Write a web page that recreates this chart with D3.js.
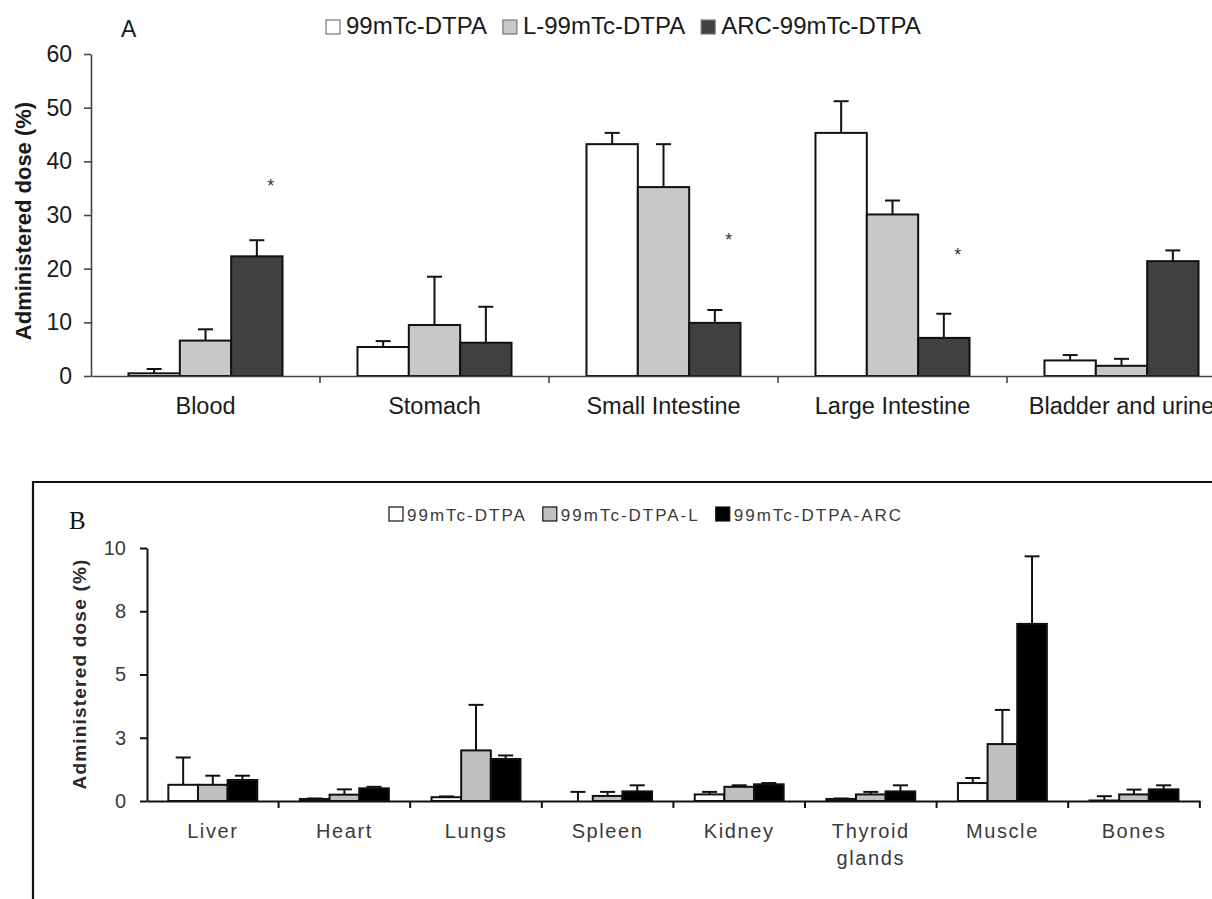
<!DOCTYPE html>
<html lang="en">
<head>
    <meta charset="UTF-8">
    <script src="https://cdn.jsdelivr.net/npm/d3@7"></script>
    <style>
        body { margin: 0; background: #fff; }
        svg { display: block; }
    </style>
</head>
<body>
<div id="chart"></div>
<script>
    // ---- panel A data (% administered dose, mean and SD) ----
    var organsA = ["Blood", "Stomach", "Small Intestine", "Large Intestine", "Bladder and urine"];
    var seriesA = ["99mTc-DTPA", "L-99mTc-DTPA", "ARC-99mTc-DTPA"];
    var dtpaA = [0.5, 5.4, 43.2, 45.3, 2.9];
    var dtpaSdA = [0.8, 1.1, 2.1, 5.9, 1.0];
    var lipoA = [6.6, 9.5, 35.2, 30.1, 1.9];
    var lipoSdA = [2.1, 9.0, 8.0, 2.6, 1.3];
    var arcA = [22.3, 6.2, 9.9, 7.1, 21.4];
    var arcSdA = [3.0, 6.7, 2.4, 4.5, 2.0];
    var ticksA = [0, 10, 20, 30, 40, 50, 60];
    var starOrgansA = ["Blood", "Small Intestine", "Large Intestine"];
    var starLevelsA = [36, 25.9, 23.1];

    // ---- panel B data ----
    var organsB = ["Liver", "Heart", "Lungs", "Spleen", "Kidney", "Thyroid glands", "Muscle", "Bones"];
    var seriesB = ["99mTc-DTPA", "99mTc-DTPA-L", "99mTc-DTPA-ARC"];
    var dtpaB = [0.64, 0.08, 0.15, 0, 0.26, 0.08, 0.71, 0.02];
    var dtpaSdB = [1.08, 0.02, 0.03, 0.36, 0.10, 0.02, 0.20, 0.17];
    var lipoB = [0.64, 0.25, 2.0, 0.2, 0.56, 0.26, 2.25, 0.26];
    var lipoSdB = [0.36, 0.21, 1.8, 0.16, 0.06, 0.10, 1.35, 0.19];
    var arcB = [0.83, 0.5, 1.66, 0.38, 0.66, 0.38, 7.0, 0.46];
    var arcSdB = [0.17, 0.06, 0.14, 0.24, 0.05, 0.24, 2.67, 0.16];
    var ticksB = [0, 2.5, 5, 7.5, 10];
    var tickLabelsB = ["0", "3", "5", "8", "10"];

    var svg = d3.select("#chart")
        .append("svg")
        .attr("width", 1212)
        .attr("height", 899);

    function rows(organs, series, means, sds) {
        var out = [];
        organs.forEach(function (o, i) {
            series.forEach(function (s, j) {
                out.push({ organ: o, series: s, v: means[j][i], sd: sds[j][i] });
            });
        });
        return out;
    }

    // draws one grouped bar panel, returns its scales
    function drawPanel(g, p) {
        var x = d3.scaleBand().domain(p.organs)
            .range([p.left, p.left + p.step * p.organs.length]);
        var xs = d3.scaleBand().domain(p.series)
            .range([0, p.step]).paddingOuter(p.outer);
        var y = d3.scaleLinear().domain([0, p.max]).range([p.bottom, p.top]);
        var fill = d3.scaleOrdinal().domain(p.series).range(p.fills);
        var data = rows(p.organs, p.series, p.means, p.sds);

        g.selectAll("rect.bar")
            .data(data)
            .enter()
            .append("rect")
            .attr("class", "bar")
            .attr("x", function (d) { return x(d.organ) + xs(d.series); })
            .attr("y", function (d) { return y(d.v); })
            .attr("width", xs.bandwidth())
            .attr("height", function (d) { return y(0) - y(d.v); })
            .attr("fill", function (d) { return fill(d.series); })
            .attr("stroke", "#111")
            .attr("stroke-width", 2);

        var err = g.selectAll("g.err")
            .data(data)
            .enter()
            .append("g")
            .attr("class", "err")
            .attr("stroke", "#111")
            .attr("stroke-width", 2);
        err.append("line")
            .attr("x1", function (d) { return x(d.organ) + xs(d.series) + xs.bandwidth() / 2; })
            .attr("x2", function (d) { return x(d.organ) + xs(d.series) + xs.bandwidth() / 2; })
            .attr("y1", function (d) { return y(d.v); })
            .attr("y2", function (d) { return y(d.v + d.sd); });
        err.append("line")
            .attr("x1", function (d) { return x(d.organ) + xs(d.series) + xs.bandwidth() / 2 - 7.5; })
            .attr("x2", function (d) { return x(d.organ) + xs(d.series) + xs.bandwidth() / 2 + 7.5; })
            .attr("y1", function (d) { return y(d.v + d.sd); })
            .attr("y2", function (d) { return y(d.v + d.sd); });

        // y axis
        var yAxis = d3.axisLeft(y)
            .tickValues(p.ticks)
            .tickSize(7)
            .tickSizeOuter(0)
            .tickPadding(p.yPad);
        if (p.tickLabels) yAxis.tickFormat(function (d, i) { return p.tickLabels[i]; });
        var ya = g.append("g")
            .attr("transform", "translate(" + p.left + ",0)")
            .call(yAxis);
        ya.selectAll("path, line").attr("stroke", p.axisColor).attr("stroke-width", p.axisWidth);
        ya.selectAll("text")
            .attr("font-family", "Liberation Sans, Arial, sans-serif")
            .attr("font-size", p.tickFont)
            .attr("fill", p.textColor);

        // x axis: line + labels, boundary ticks drawn separately
        var xAxis = d3.axisBottom(x).tickSize(0).tickSizeOuter(0).tickPadding(p.xPad);
        var xa = g.append("g")
            .attr("transform", "translate(0," + p.bottom + ")")
            .call(xAxis);
        xa.select("path.domain").attr("stroke", p.axisColor).attr("stroke-width", p.axisWidth);
        xa.selectAll("text")
            .attr("font-family", "Liberation Sans, Arial, sans-serif")
            .attr("font-size", p.labelFont)
            .attr("letter-spacing", p.labelSpacing)
            .attr("fill", p.textColor)
            .each(function (d) {
                var t = d3.select(this);
                var words = d.split(" ");
                if (!p.wrap || words.length < 2) return;
                t.text(null);
                words.forEach(function (w, k) {
                    t.append("tspan").attr("x", 0).attr("dy", k === 0 ? "0.71em" : "1.35em").text(w);
                });
            });

        var bounds = p.organs.slice(1).map(function (o) { return x(o); });
        if (p.endTick) bounds.push(x.range()[1]);
        g.selectAll("line.bound")
            .data(bounds)
            .enter()
            .append("line")
            .attr("class", "bound")
            .attr("x1", function (d) { return d; })
            .attr("x2", function (d) { return d; })
            .attr("y1", p.bottom)
            .attr("y2", p.bottom + 7)
            .attr("stroke", p.axisColor)
            .attr("stroke-width", p.axisWidth);

        return { x: x, xs: xs, y: y, fill: fill };
    }

    function legend(g, names, fills, p) {
        var cx = p.x;
        names.forEach(function (n, i) {
            g.append("rect")
                .attr("x", cx).attr("y", p.y - p.box)
                .attr("width", p.box).attr("height", p.box)
                .attr("fill", fills[i])
                .attr("stroke", p.boxStroke)
                .attr("stroke-width", 1.2);
            var t = g.append("text")
                .attr("x", cx + p.box + p.gap)
                .attr("y", p.y)
                .attr("font-family", "Liberation Sans, Arial, sans-serif")
                .attr("font-size", p.font)
                .attr("letter-spacing", p.spacing)
                .attr("fill", p.color)
                .text(n);
            cx += p.box + p.gap + t.node().getComputedTextLength() + p.between;
        });
    }

    // ================= Panel A =================
    var gA = svg.append("g");
    var fillsA = ["#ffffff", "#c8c8c8", "#404040"];
    var sA = drawPanel(gA, {
        organs: organsA, series: seriesA,
        means: [dtpaA, lipoA, arcA], sds: [dtpaSdA, lipoSdA, arcSdA],
        fills: fillsA,
        left: 91, step: 229, outer: 0.73,
        top: 54, bottom: 376, max: 60, ticks: ticksA,
        yPad: 12, xPad: 21,
        tickFont: 23, labelFont: 23.5, labelSpacing: 0,
        axisColor: "#444", axisWidth: 1.6, textColor: "#1a1a1a"
    });

    gA.selectAll("text.star")
        .data(starOrgansA)
        .enter()
        .append("text")
        .attr("class", "star")
        .attr("x", function (d) { return sA.x(d) + sA.xs(seriesA[2]) + sA.xs.bandwidth() / 2 + 14; })
        .attr("y", function (d, i) { return sA.y(starLevelsA[i]) + 9; })
        .attr("text-anchor", "middle")
        .attr("font-family", "Liberation Sans, Arial, sans-serif")
        .attr("font-size", 18)
        .attr("fill", "#333")
        .text("*");

    gA.append("text")
        .attr("transform", "translate(31,221) rotate(-90)")
        .attr("text-anchor", "middle")
        .attr("font-family", "Liberation Sans, Arial, sans-serif")
        .attr("font-size", 22)
        .attr("font-weight", "bold")
        .attr("fill", "#1a1a1a")
        .text("Administered dose (%)");

    gA.append("text")
        .attr("x", 121).attr("y", 37)
        .attr("font-family", "Liberation Sans, Arial, sans-serif")
        .attr("font-size", 23)
        .attr("fill", "#1a1a1a")
        .text("A");

    legend(gA, seriesA, fillsA, {
        x: 326, y: 34, box: 14, gap: 6, between: 16,
        font: 24, spacing: 0, color: "#1a1a1a", boxStroke: "#777"
    });

    // ================= Panel B =================
    var gB = svg.append("g");
    gB.append("path")
        .attr("d", "M33,899V482H1212")
        .attr("fill", "none")
        .attr("stroke", "#111")
        .attr("stroke-width", 2.2);

    var fillsB = ["#ffffff", "#c0c0c0", "#000000"];
    drawPanel(gB, {
        organs: organsB, series: seriesB,
        means: [dtpaB, lipoB, arcB], sds: [dtpaSdB, lipoSdB, arcSdB],
        fills: fillsB,
        left: 147, step: 131.6, outer: 0.72,
        top: 548, bottom: 801, max: 10, ticks: ticksB, tickLabels: tickLabelsB,
        yPad: 14, xPad: 23, wrap: true, endTick: true,
        tickFont: 20, labelFont: 20, labelSpacing: 1.6,
        axisColor: "#111", axisWidth: 2, textColor: "#3a3a3a"
    });

    gB.append("text")
        .attr("transform", "translate(86,674) rotate(-90)")
        .attr("text-anchor", "middle")
        .attr("font-family", "Liberation Sans, Arial, sans-serif")
        .attr("font-size", 19)
        .attr("font-weight", "bold")
        .attr("letter-spacing", 1.2)
        .attr("fill", "#2a2a2a")
        .text("Administered dose (%)");

    gB.append("text")
        .attr("x", 69).attr("y", 529)
        .attr("font-family", "Liberation Serif, Times New Roman, serif")
        .attr("font-size", 25)
        .attr("fill", "#111")
        .text("B");

    legend(gB, seriesB, fillsB, {
        x: 389, y: 521, box: 14, gap: 4, between: 16,
        font: 17, spacing: 2.0, color: "#3a3a3a", boxStroke: "#111"
    });
</script>
</body>
</html>
